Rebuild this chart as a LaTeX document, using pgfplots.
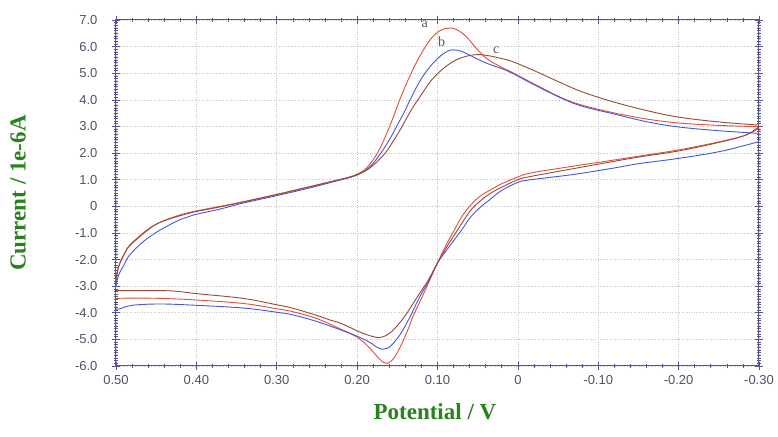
\documentclass[border=0pt]{standalone}
\usepackage{pgfplots}
\pgfplotsset{compat=1.18}
\usepackage{fontspec}
\setmainfont{Liberation Sans}
\newfontfamily\labfont{Liberation Serif}
\definecolor{ca}{RGB}{228,76,60}
\definecolor{cb}{RGB}{66,88,216}
\definecolor{cc}{RGB}{150,74,54}
\definecolor{axc}{RGB}{84,84,150}
\definecolor{tlc}{RGB}{80,80,105}
\definecolor{labg}{RGB}{40,130,30}
\begin{document}
\begin{tikzpicture}
\useasboundingbox (0,0) rectangle (778pt,436pt);
\begin{axis}[
  at={(116pt,70pt)}, anchor=south west,
  scale only axis, width=643pt, height=346pt,
  x dir=reverse,
  xmin=-0.3, xmax=0.5, ymin=-6, ymax=7,
  xtick={0.5,0.4,0.3,0.2,0.1,0,-0.1,-0.2,-0.3},
  xticklabels={0.50,0.40,0.30,0.20,0.10,0,-0.10,-0.20,-0.30},
  ytick={-6,-5,-4,-3,-2,-1,0,1,2,3,4,5,6,7},
  yticklabels={-6.0,-5.0,-4.0,-3.0,-2.0,-1.0,0,1.0,2.0,3.0,4.0,5.0,6.0,7.0},
  minor x tick num=4, minor y tick num=9,
  tick align=center, tick pos=both,
  major tick length=8pt, minor tick length=4pt,
  axis line style={axc, line width=1pt},
  every tick/.style={axc, line width=0.6pt},
  grid=major, major grid style={gray!45, dotted, line width=0.6pt},
  tick label style={font=\fontsize{13}{15}\selectfont, text=tlc},
  yticklabel style={xshift=-11pt},
  xticklabel style={yshift=-2pt},
  xlabel={Potential / V}, ylabel={Current / 1e-6A},
  label style={font=\labfont\bfseries\fontsize{23}{26}\selectfont, text=labg},
  xlabel style={at={(axis description cs:0.496,-0.133)}, anchor=center},
  ylabel style={at={(axis description cs:-0.152,0.5)}, anchor=center},
  every axis plot/.append style={line width=0.9pt, smooth, tension=0.6},
]
% curve a (red) upper branch
\addplot[ca] coordinates {(0.500,-2.75)(0.497,-2.3)(0.493,-1.98)(0.488,-1.7)(0.483,-1.46)(0.472,-1.15)(0.460,-0.86)(0.445,-0.6)(0.425,-0.37)(0.404,-0.2)(0.370,0.0)(0.342,0.17)(0.300,0.45)(0.259,0.74)(0.230,0.95)(0.210,1.10)(0.197,1.25)(0.188,1.45)(0.180,1.75)(0.172,2.15)(0.163,2.75)(0.155,3.35)(0.147,4.0)(0.138,4.65)(0.128,5.3)(0.118,5.85)(0.108,6.3)(0.098,6.58)(0.090,6.68)(0.083,6.70)(0.075,6.62)(0.065,6.4)(0.055,6.05)(0.045,5.72)(0.035,5.47)(0.020,5.22)(0.007,5.03)(-0.020,4.6)(-0.055,4.07)(-0.080,3.8)(-0.118,3.52)(-0.160,3.28)(-0.200,3.13)(-0.250,3.04)(-0.300,2.99)};
% curve a lower branch
\addplot[ca] coordinates {(-0.300,2.95)(-0.284,2.68)(-0.250,2.42)(-0.200,2.12)(-0.150,1.88)(-0.100,1.65)(-0.050,1.42)(-0.014,1.24)(0.000,1.10)(0.020,0.85)(0.035,0.60)(0.048,0.36)(0.060,0.0)(0.070,-0.4)(0.079,-0.89)(0.090,-1.5)(0.100,-2.13)(0.110,-2.8)(0.119,-3.4)(0.130,-4.1)(0.137,-4.65)(0.145,-5.2)(0.152,-5.6)(0.158,-5.83)(0.162,-5.90)(0.168,-5.85)(0.175,-5.65)(0.185,-5.3)(0.197,-4.98)(0.210,-4.76)(0.220,-4.62)(0.250,-4.22)(0.280,-3.96)(0.300,-3.85)(0.342,-3.65)(0.400,-3.52)(0.445,-3.46)(0.480,-3.45)(0.500,-3.46)};
% curve b (blue) upper branch
\addplot[cb] coordinates {(0.500,-3.0)(0.497,-2.6)(0.490,-2.2)(0.483,-1.83)(0.465,-1.3)(0.445,-0.89)(0.420,-0.5)(0.404,-0.33)(0.370,-0.1)(0.342,0.12)(0.300,0.40)(0.259,0.69)(0.230,0.92)(0.205,1.12)(0.192,1.30)(0.182,1.55)(0.174,1.85)(0.166,2.2)(0.158,2.6)(0.150,3.05)(0.142,3.5)(0.134,4.0)(0.122,4.7)(0.110,5.22)(0.098,5.6)(0.088,5.82)(0.080,5.88)(0.070,5.82)(0.060,5.68)(0.048,5.5)(0.035,5.33)(0.020,5.17)(0.007,5.0)(-0.020,4.57)(-0.055,4.05)(-0.080,3.76)(-0.118,3.48)(-0.160,3.18)(-0.200,2.98)(-0.250,2.84)(-0.300,2.74)};
% curve b lower branch
\addplot[cb] coordinates {(-0.300,2.43)(-0.284,2.3)(-0.250,2.05)(-0.200,1.80)(-0.150,1.60)(-0.118,1.43)(-0.070,1.20)(-0.014,0.99)(0.000,0.90)(0.020,0.60)(0.035,0.25)(0.048,-0.07)(0.060,-0.45)(0.070,-0.89)(0.085,-1.5)(0.100,-2.13)(0.110,-2.75)(0.122,-3.4)(0.135,-4.2)(0.145,-4.75)(0.155,-5.15)(0.162,-5.33)(0.168,-5.37)(0.175,-5.3)(0.185,-5.1)(0.200,-4.88)(0.220,-4.65)(0.250,-4.33)(0.280,-4.08)(0.300,-3.98)(0.342,-3.82)(0.400,-3.72)(0.445,-3.67)(0.480,-3.72)(0.495,-3.85)(0.500,-3.87)};
% curve c (brown) upper branch
\addplot[cc] coordinates {(0.500,-2.8)(0.497,-2.3)(0.493,-2.0)(0.488,-1.7)(0.483,-1.48)(0.460,-0.88)(0.445,-0.6)(0.420,-0.35)(0.404,-0.22)(0.370,-0.02)(0.342,0.16)(0.300,0.44)(0.259,0.73)(0.230,0.94)(0.210,1.08)(0.195,1.25)(0.185,1.42)(0.175,1.68)(0.165,2.0)(0.155,2.45)(0.145,2.95)(0.133,3.6)(0.120,4.2)(0.108,4.72)(0.095,5.12)(0.080,5.45)(0.065,5.63)(0.050,5.70)(0.035,5.65)(0.020,5.55)(0.007,5.44)(-0.020,5.1)(-0.055,4.62)(-0.080,4.3)(-0.118,3.93)(-0.160,3.6)(-0.200,3.35)(-0.250,3.17)(-0.300,3.05)};
% curve c lower branch
\addplot[cc] coordinates {(-0.300,3.0)(-0.284,2.68)(-0.250,2.4)(-0.200,2.08)(-0.150,1.85)(-0.118,1.68)(-0.070,1.42)(-0.014,1.11)(0.000,1.0)(0.020,0.72)(0.035,0.47)(0.048,0.17)(0.060,-0.2)(0.075,-0.89)(0.088,-1.5)(0.100,-2.13)(0.112,-2.8)(0.125,-3.4)(0.140,-4.1)(0.152,-4.55)(0.162,-4.82)(0.172,-4.93)(0.182,-4.88)(0.197,-4.72)(0.220,-4.4)(0.234,-4.27)(0.250,-4.1)(0.280,-3.83)(0.300,-3.7)(0.342,-3.46)(0.400,-3.28)(0.430,-3.18)(0.460,-3.17)(0.500,-3.17)};
\node[font=\labfont\fontsize{14}{14}\selectfont, text=black!65] at (axis cs:0.116,6.85) {a};
\node[font=\labfont\fontsize{14}{14}\selectfont, text=black!65] at (axis cs:0.095,6.18) {b};
\node[font=\labfont\fontsize{14}{14}\selectfont, text=black!65] at (axis cs:0.027,5.85) {c};
\end{axis}
\end{tikzpicture}
\end{document}
